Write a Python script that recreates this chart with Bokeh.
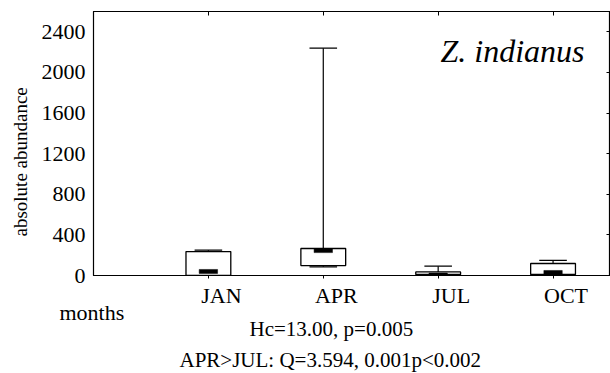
from bokeh.plotting import figure
from bokeh.models import Range1d, LinearAxis, FixedTicker, Label, Title
from bokeh.embed import file_html
from bokeh.resources import INLINE

# ---- data ----
months = ["JAN", "APR", "JUL", "OCT"]
xpos = [1, 2, 3, 4]
mins = [0, 85, 0, 0]
q1 = [0, 98, 10, 10]
medians = [40, 245, 5, 30]
q3 = [236, 266, 35, 118]
maxs = [249, 2239, 92, 148]
yticks = [0, 400, 800, 1200, 1600, 2000, 2400]
title_text = "Z. indianus"
xlabel_text = "months"
ylabel_text = "absolute abundance"
stat_lines = ["Hc=13.00, p=0.005", "APR>JUL: Q=3.594, 0.001p<0.002"]

FONT = "Liberation Serif"
BOX_W = 0.39
CAP_W = 0.24
MED_W = 0.16
X_MAX = 4.5
LABEL_SHIFT = 13 / 114.7  # month labels sit a little right of their boxes

p = figure(width=610, height=373, output_backend="svg", toolbar_location=None,
           x_range=Range1d(0, X_MAX), y_range=Range1d(0, 2600),
           min_border_left=92, min_border_right=0, min_border_top=11, min_border_bottom=98)
p.xgrid.visible = False
p.ygrid.visible = False
p.outline_line_color = "black"
p.outline_line_width = 1.2
p.background_fill_color = "white"
p.border_fill_color = "white"
p.extra_x_ranges = {"lab": Range1d(-LABEL_SHIFT, X_MAX - LABEL_SHIFT)}

# left axis
yax = p.yaxis[0]
yax.ticker = FixedTicker(ticks=yticks)
yax.major_tick_in = 0
yax.major_tick_out = 0
yax.minor_tick_line_color = None
yax.axis_line_color = "black"
yax.major_label_text_font = FONT
yax.major_label_text_font_size = "22px"
yax.major_label_text_color = "black"
yax.major_label_standoff = 8

# y-axis title, placed a bit lower than the frame centre as in the reference
p.add_layout(Title(text=ylabel_text, align="left", offset=39, standoff=15,
                   text_font=FONT, text_font_size="19px", text_font_style="normal",
                   text_color="black"), "left")

# bottom axis: tick marks only
xax = p.xaxis[0]
xax.ticker = FixedTicker(ticks=xpos)
xax.major_tick_in = 0
xax.major_tick_out = 3
xax.minor_tick_line_color = None
xax.axis_line_color = "black"
xax.major_label_text_font_size = "1px"
xax.major_label_text_color = None
xax.major_label_standoff = 0

# month labels, on an axis shifted a few pixels right
lab_ax = LinearAxis(x_range_name="lab", ticker=FixedTicker(ticks=xpos),
                    major_label_overrides={x: m for x, m in zip(xpos, months)},
                    major_tick_in=0, major_tick_out=0, minor_tick_line_color=None,
                    axis_line_color=None, major_label_standoff=4,
                    major_label_text_font=FONT, major_label_text_font_size="22px",
                    major_label_text_color="black")
p.add_layout(lab_ax, "below")

# top and right axes with inward ticks
top = LinearAxis(ticker=FixedTicker(ticks=xpos), major_tick_in=4, major_tick_out=0,
                 minor_tick_line_color=None, major_label_text_font_size="1px",
                 major_label_text_color=None, major_label_standoff=0,
                 axis_line_color="black")
right = LinearAxis(ticker=FixedTicker(ticks=yticks), major_tick_in=4, major_tick_out=0,
                   minor_tick_line_color=None, major_label_text_font_size="1px",
                   major_label_text_color=None, major_label_standoff=0,
                   axis_line_color="black")
p.add_layout(top, "above")
p.add_layout(right, "right")

# boxes
p.vbar(x=xpos, width=BOX_W, bottom=q1, top=q3, fill_color="white",
       line_color="black", line_width=1.3)
# whiskers
p.segment(x0=xpos, y0=q3, x1=xpos, y1=maxs, line_color="black", line_width=1.2)
p.segment(x0=xpos, y0=mins, x1=xpos, y1=q1, line_color="black", line_width=1.2)
# caps
p.segment(x0=[x - CAP_W / 2 for x in xpos], y0=maxs, x1=[x + CAP_W / 2 for x in xpos], y1=maxs,
          line_color="black", line_width=1.2)
p.segment(x0=[x - CAP_W / 2 for x in xpos], y0=mins, x1=[x + CAP_W / 2 for x in xpos], y1=mins,
          line_color="black", line_width=1.2)
# medians
p.rect(x=xpos, y=medians, width=MED_W, height=4, height_units="screen",
       fill_color="black", line_color="black", line_width=0.5)

# texts under the chart
p.add_layout(Title(text=xlabel_text, align="left", offset=-34, standoff=-26,
                   text_font=FONT, text_font_size="22px", text_font_style="normal",
                   text_color="black"), "below")
p.add_layout(Title(text=stat_lines[0], align="left", offset=156, standoff=7,
                   text_font=FONT, text_font_size="21px", text_font_style="normal",
                   text_color="black"), "below")
p.add_layout(Title(text=stat_lines[1], align="left", offset=86, standoff=2,
                   text_font=FONT, text_font_size="21px", text_font_style="normal",
                   text_color="black"), "below")

p.add_layout(Label(x=X_MAX, y=2600, x_offset=-26, y_offset=-39, text=title_text,
                   text_font=FONT, text_font_size="32px", text_font_style="italic",
                   text_color="black", text_align="right", text_baseline="middle"))

open("out.html", "w").write(file_html(p, INLINE))
